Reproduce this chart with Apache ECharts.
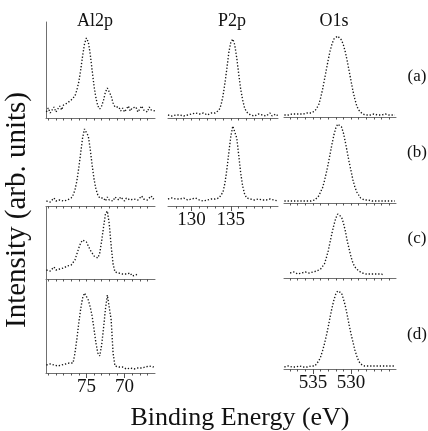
<!DOCTYPE html>
<html>
<head>
<meta charset="utf-8">
<script src="https://cdn.jsdelivr.net/npm/echarts@6/dist/echarts.min.js"></script>
<style>
  html, body { margin: 0; padding: 0; background: #fff; }
  #chart { width: 428px; height: 431px; }
</style>
</head>
<body>
<div id="chart"></div>
<script>
// Binding-energy sampling grids (eV), one per core level
const E_AL2P = [80.25,80,79.75,79.5,79.25,79,78.75,78.5,78.25,78,77.75,77.5,77.25,77,76.75,76.5,76.25,76,75.75,75.5,75.25,75,74.75,74.5,74.25,74,73.75,73.5,73.25,73,72.75,72.5,72.25,72,71.75,71.5,71.25,71,70.75,70.5,70.25,70,69.75,69.5,69.25,69,68.75,68.5,68.25,68,67.75,67.5,67.25,67,66.75,66.5,66.25,66];
const E_P2P = [127,127.25,127.5,127.75,128,128.25,128.5,128.75,129,129.25,129.5,129.75,130,130.25,130.5,130.75,131,131.25,131.5,131.75,132,132.25,132.5,132.75,133,133.25,133.5,133.75,134,134.25,134.5,134.75,135,135.25,135.5,135.75,136,136.25,136.5,136.75,137,137.25,137.5,137.75,138,138.25,138.5,138.75,139,139.25,139.5,139.75,140,140.25,140.5,140.75,141];
const E_O1S = [538.75,538.5,538.25,538,537.75,537.5,537.25,537,536.75,536.5,536.25,536,535.75,535.5,535.25,535,534.75,534.5,534.25,534,533.75,533.5,533.25,533,532.75,532.5,532.25,532,531.75,531.5,531.25,531,530.75,530.5,530.25,530,529.75,529.5,529.25,529,528.75,528.5,528.25,528,527.75,527.5,527.25,527,526.75,526.5,526.25,526,525.75,525.5,525.25,525,524.75,524.5,524.25];

// Intensities (arb. units), samples (a)-(d)
const AL2P_A = [6,10,5,8,11,6,9,12,8,13, 11,15,14,18,17,22,28,36,48,62, 74,80,76,64,48,32,20,12,9,12, 18,26,30,28,22,15,11,9,11,7, 10,6,9,12,7,10,8,11,6,9, 12,8,10,6,11,8,10,7];
const AL2P_B = [5,7,4,6,8,5,7,6,8,5, 7,6,8,8,11,16,25,38,53,68, 77,78,70,57,41,27,17,11,8,6, 8,5,9,6,8,5,9,7,6,9, 7,5,8,10,6,8,7,9,6,8, 10,7,9,6,8,10,7,9];
const AL2P_C = [9,11,8,10,12,9,11,10,12,11, 12,13,13,14,16,19,25,31,36,39, 39,37,33,29,26,23,21,21,26,38, 52,65,68,55,33,15,7,5,6,4, 5,3,5,4,6,3,5,4,6];
const AL2P_D = [8,6,9,7,8,10,7,9,8,7, 9,8,10,9,10,20,34,50,64,75, 80,79,73,66,57,44,30,20,17,28, 45,64,78,79,53,20,7,5,6,4, 6,5,4,6,5,7,4,6,5,7, 5,4,6,5,7,5,6,8];
const P2P_A = [3,4,2,4,3,5,3,4,2,4, 3,5,4,3,5,3,4,3,5,4, 3,4,5,4,5,6,8,13,22,35, 50,66,76,79,73,60,44,29,18,10, 6,4,3,4,2,3,4,2,3,4, 2,3,5,2,3,4,2];
const P2P_B = [7,6,8,6,7,9,7,6,8,7, 6,8,7,6,8,7,6,7,5,7, 6,5,7,6,7,6,8,10,14,23, 37,54,70,80,79,68,51,33,20,12, 8,6,7,5,6,5,7,5,6,4, 6,5,7,5,6,4,5];
const O1S_A = [2,3,2,1,3,2,3,2,3,2, 3,3,4,3,4,4,6,8,12,19, 27,37,47,57,66,73,78,80,81,80, 77,72,65,56,46,36,26,18,11,7, 5,3,3,2,3,2,2,3,2,2, 3,2,2,3,2,2,3,2,2];
const O1S_B = [2,3,2,3,2,3,2,3,2,3, 2,3,2,3,2,3,3,5,7,11, 15,22,30,39,49,59,68,75,79,80, 76,70,61,51,41,32,23,16,11,8, 5,4,3,2,3,2,2,3,2,2, 2,3,2,2,2,3,2,2,2];
const O1S_C = [null,null,null,5,4,6,5,4,6,5, 4,6,5,5,6,6,6,7,8,9, 11,14,20,27,36,45,53,60,64,65, 61,55,47,37,29,21,15,11,9,7, 6,5,5,4,5,4,3,4,3,4, 3,4,3,null,null,null,null,null,null];
const O1S_D = [2,2,3,2,2,3,2,2,3,2, 2,3,2,2,3,2,3,5,8,12, 18,25,33,42,52,61,69,75,78,79, 76,70,63,54,44,35,27,19,13,8, 5,3,3,2,3,2,3,2,3,2, 3,2,3,2,3,2,3,2,3];

// Axis tick positions and labels
const TICKS_AL2P = [67,68,69,70,71,72,73,74,75,76,77,78,79,80];
const TICKS_P2P = [128,129,130,131,132,133,134,135,136,137,138,139,140];
const TICKS_O1S = [525,526,527,528,529,530,531,532,533,534,535,536,537,538];
const LABELS_AL2P = [75, 70];
const LABELS_P2P = [130, 135];
const LABELS_O1S = [535, 530];

const COLUMN_TITLES = ['Al2p', 'P2p', 'O1s'];
const ROW_LABELS = ['(a)', '(b)', '(c)', '(d)'];
const X_TITLE = 'Binding Energy (eV)';
const Y_TITLE = 'Intensity (arb. units)';

const SERIF = '"Liberation Serif", "Times New Roman", serif';
const AXIS_GRAY = '#707070';

const columns = {
  Al2p: { E: E_AL2P, left: 46, width: 109, min: 66, max: 80.3, inverse: true, ticks: TICKS_AL2P, labels: LABELS_AL2P },
  P2p:  { E: E_P2P,  left: 168, width: 110, min: 127, max: 141, inverse: false, ticks: TICKS_P2P, labels: LABELS_P2P },
  O1s:  { E: E_O1S,  left: 284, width: 112, min: 524.1, max: 538.8, inverse: true, ticks: TICKS_O1S, labels: LABELS_O1S }
};

const panels = [
  { col: 'Al2p', top: 22,  bottom: 118, y: AL2P_A, frame: true,  labeled: false },
  { col: 'P2p',  top: 22,  bottom: 118, y: P2P_A,  frame: false, labeled: false },
  { col: 'O1s',  top: 22,  bottom: 117, y: O1S_A,  frame: false, labeled: false },
  { col: 'Al2p', top: 118, bottom: 206, y: AL2P_B, frame: false, labeled: false },
  { col: 'P2p',  top: 118, bottom: 206, y: P2P_B,  frame: false, labeled: true },
  { col: 'O1s',  top: 118, bottom: 203, y: O1S_B,  frame: false, labeled: false },
  { col: 'Al2p', top: 207, bottom: 279, y: AL2P_C, frame: true,  labeled: false },
  { col: 'O1s',  top: 207, bottom: 278, y: O1S_C,  frame: false, labeled: false },
  { col: 'Al2p', top: 279, bottom: 373, y: AL2P_D, frame: true,  labeled: true },
  { col: 'O1s',  top: 279, bottom: 369, y: O1S_D,  frame: false, labeled: true }
];

const grid = [], xAxis = [], yAxis = [], series = [];

panels.forEach((p, i) => {
  const c = columns[p.col];
  const h = p.bottom - p.top;
  grid.push({ left: c.left, width: c.width, top: p.top, height: h });

  // baseline with 1 eV minor ticks
  xAxis.push({
    type: 'value', gridIndex: i, position: 'bottom',
    min: c.min, max: c.max, inverse: c.inverse,
    axisLine: { show: true, lineStyle: { color: AXIS_GRAY, width: 1 } },
    axisTick: { show: true, customValues: c.ticks, length: 2.5, lineStyle: { color: '#555', width: 1 } },
    axisLabel: { show: false },
    splitLine: { show: false }
  });
  // labelled major ticks
  xAxis.push({
    type: 'value', gridIndex: i, position: 'bottom', show: p.labeled,
    min: c.min, max: c.max, inverse: c.inverse,
    axisLine: { show: false },
    axisTick: { show: true, customValues: c.labels, length: 5, lineStyle: { color: '#555', width: 1 } },
    axisLabel: {
      show: true, customValues: c.labels, margin: 5,
      fontFamily: SERIF, fontSize: 19, color: '#111'
    },
    splitLine: { show: false }
  });

  yAxis.push({
    type: 'value', gridIndex: i, min: 0, max: h,
    axisLine: { show: p.frame, lineStyle: { color: AXIS_GRAY, width: 1 } },
    axisTick: { show: false }, axisLabel: { show: false }, splitLine: { show: false }
  });

  const pts = [];
  p.y.forEach((v, k) => { if (v !== null) pts.push([c.E[k], v]); });
  series.push({
    type: 'line', xAxisIndex: 2 * i, yAxisIndex: i, data: pts,
    showSymbol: false, silent: true,
    lineStyle: { color: '#151515', width: 1.35, type: [1.3, 1.9] }
  });
});

// Text: column titles, row labels, axis titles
const graphic = [];
const titleX = [95, 232, 334];
COLUMN_TITLES.forEach((t, i) => graphic.push({
  type: 'text', x: titleX[i], y: 21,
  style: { text: t, font: '18px ' + SERIF, fill: '#111', align: 'center', verticalAlign: 'middle' }
}));
const rowY = [77, 153, 239, 335];
ROW_LABELS.forEach((t, i) => graphic.push({
  type: 'text', x: 417, y: rowY[i],
  style: { text: t, font: '17px ' + SERIF, fill: '#111', align: 'center', verticalAlign: 'middle' }
}));
graphic.push({
  type: 'text', x: 240, y: 418,
  style: { text: X_TITLE, font: '26px ' + SERIF, fill: '#111', align: 'center', verticalAlign: 'middle' }
});
graphic.push({
  type: 'text', x: 17, y: 210, rotation: Math.PI / 2,
  style: { text: Y_TITLE, font: '29px ' + SERIF, fill: '#111', align: 'center', verticalAlign: 'middle' }
});

const chart = echarts.init(document.getElementById('chart'));
chart.setOption({
  animation: false,
  backgroundColor: '#fff',
  grid, xAxis, yAxis, series, graphic
});
</script>
</body>
</html>
